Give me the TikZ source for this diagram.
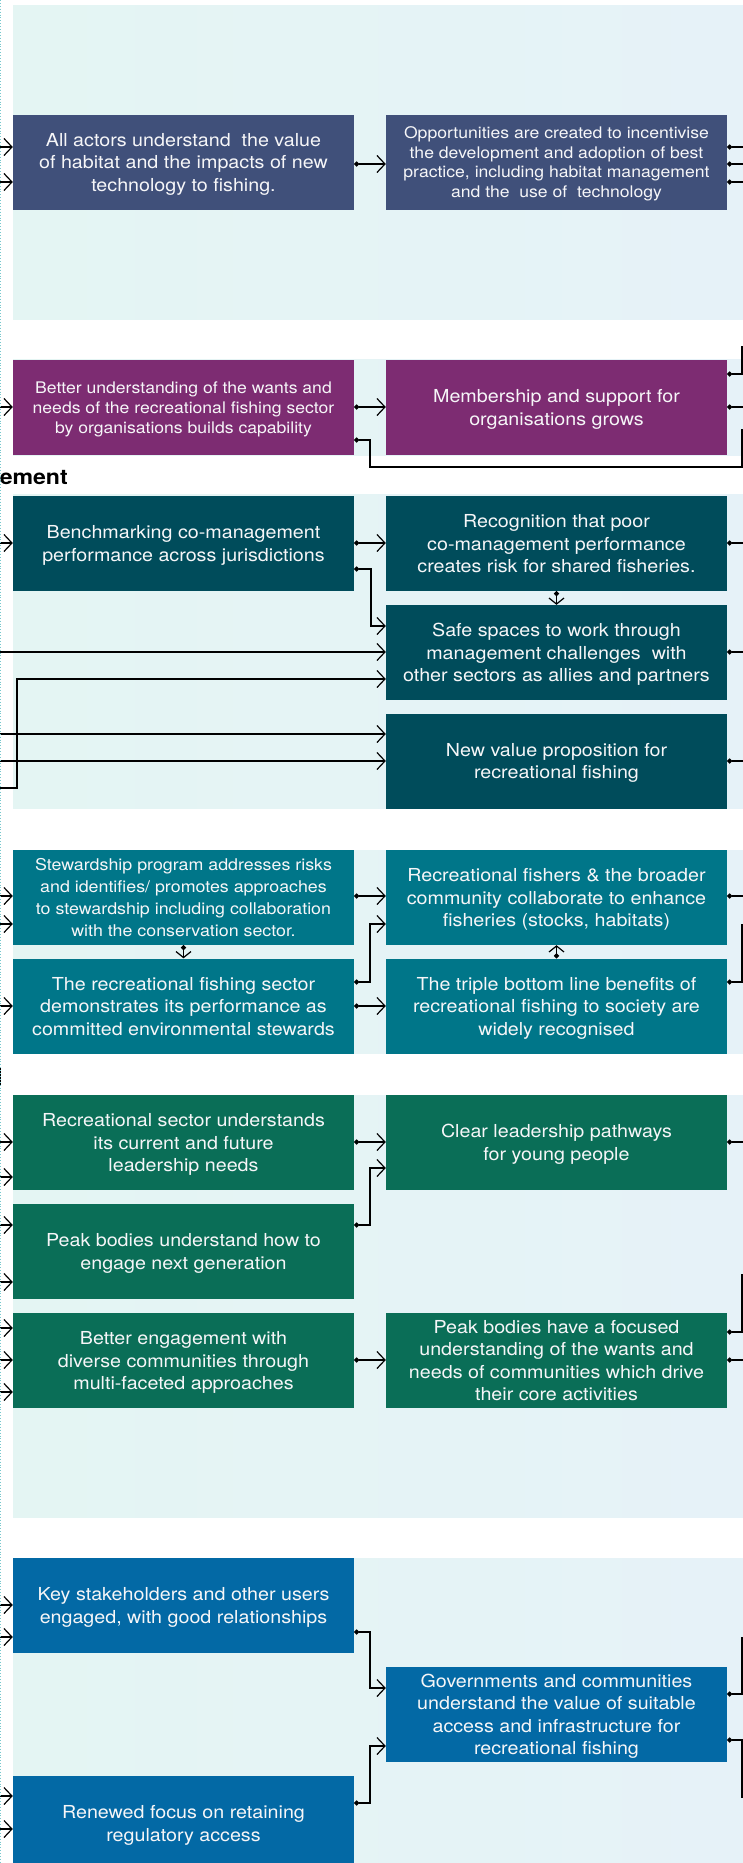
\documentclass[tikz,border=0pt]{standalone}
\usepackage{fontspec}
\setmainfont{TeX Gyre Heros}[FakeStretch=1.1]
\usetikzlibrary{arrows.meta}
\definecolor{cA}{RGB}{64,80,122}
\definecolor{cB}{RGB}{125,44,114}
\definecolor{cC}{RGB}{0,76,91}
\definecolor{cD}{RGB}{0,118,137}
\definecolor{cE}{RGB}{10,110,87}
\definecolor{cF}{RGB}{3,105,165}
\definecolor{bgL}{RGB}{228,245,243}
\definecolor{bgR}{RGB}{230,242,248}
\definecolor{dotc}{RGB}{120,200,205}
\definecolor{txt}{RGB}{246,246,248}
\begin{document}
\begin{tikzpicture}[x=1pt,y=-1pt,
  box/.style={minimum width=341pt, minimum height=95pt, inner sep=0pt, align=center, text=txt,
    font=\fontsize{17.9}{22.5}\selectfont, text depth=-7pt},
  smalltext/.style={font=\fontsize{16}{19.7}\selectfont},
  midtext/.style={font=\fontsize{16.2}{21.8}\selectfont},
  panel/.style={left color=bgL, right color=bgR, draw=none},
  link/.style={line width=1.2pt, -{Straight Barb[length=8pt,width=17pt,line width=1.2pt]}},
  dlink/.style={line width=1.2pt, {Circle[length=5pt]}-{Straight Barb[length=8pt,width=17pt,line width=1.2pt]}},
  vlink/.style={line width=1.2pt, {Circle[length=5pt]}-{Straight Barb[length=6pt,width=15pt,line width=1.2pt]}},
  dline/.style={line width=1.2pt, {Circle[length=5pt]}-},
]
\useasboundingbox (0,0) rectangle (743,1863);
\fill[white] (0,0) rectangle (743,1863);
% panels
\shade[panel] (13,5) rectangle (743,319);
\shade[panel] (13,359) rectangle (743,455);
\shade[panel] (13,494) rectangle (743,808);
\shade[panel] (13,850) rectangle (743,1053);
\shade[panel] (13,1095) rectangle (743,1517);
\shade[panel] (13,1558) rectangle (743,1863);

% heading fragment
\node[anchor=base east, inner sep=0pt, font=\fontsize{21}{24}\selectfont\bfseries] (H) at (68,484) {ement};

% boxes
\node[box, fill=cA] (A1) at (183.5,162) {All actors understand~ the value\\of habitat and the impacts of new\\technology to fishing.};
\node[box, smalltext, fill=cA] (A2) at (556.5,162) {Opportunities are created to incentivise\\the development and adoption of best\\practice, including habitat management\\and the~ use of~ technology};
\node[box, smalltext, fill=cB] (B1) at (183.5,407.5) {Better understanding of the wants and\\needs of the recreational fishing sector\\by organisations builds capability};
\node[box, fill=cB] (B2) at (556.5,407.5) {Membership and support for\\organisations grows};
\node[box, fill=cC] (C1) at (183.5,543.5) {Benchmarking co-management\\performance across jurisdictions};
\node[box, fill=cC] (C2) at (556.5,543.5) {Recognition that poor\\co-management performance\\creates risk for shared fisheries.};
\node[box, fill=cC] (C3) at (556.5,652.5) {Safe spaces to work through\\management challenges~ with\\other sectors as allies and partners};
\node[box, fill=cC] (C4) at (556.5,761) {New value proposition for\\recreational fishing};
\node[box, midtext, fill=cD] (D1) at (183.5,897.5) {Stewardship program addresses risks\\and identifies/ promotes approaches\\to stewardship including collaboration\\with the conservation sector.};
\node[box, fill=cD] (D2) at (556.5,897.5) {Recreational fishers \& the broader\\community collaborate to enhance\\fisheries (stocks, habitats)};
\node[box, fill=cD] (D3) at (183.5,1006) {The recreational fishing sector\\demonstrates its performance as\\committed environmental stewards};
\node[box, fill=cD] (D4) at (556.5,1006) {The triple bottom line benefits of\\recreational fishing to society are\\widely recognised};
\node[box, fill=cE] (E1) at (183.5,1142.5) {Recreational sector understands\\its current and future\\leadership needs};
\node[box, fill=cE] (E2) at (556.5,1142.5) {Clear leadership pathways\\for young people};
\node[box, fill=cE] (E3) at (183.5,1251.5) {Peak bodies understand how to\\engage next generation};
\node[box, fill=cE] (E4) at (183.5,1360.5) {Better engagement with\\diverse communities through\\multi-faceted approaches};
\node[box, fill=cE] (E5) at (556.5,1360.5) {Peak bodies have a focused\\understanding of the wants and\\needs of communities which drive\\their core activities};
\node[box, fill=cF] (F1) at (183.5,1605.5) {Key stakeholders and other users\\engaged, with good relationships};
\node[box, fill=cF] (F2) at (556.5,1714.5) {Governments and communities\\understand the value of suitable\\access and infrastructure for\\recreational fishing};
\node[box, fill=cF] (F3) at (183.5,1823.5) {Renewed focus on retaining\\regulatory access};

% free ends on the left
\foreach \n/\y in {a1/147,a2/182,b1/407,c1/543,c3a/652,c3b/788,c4a/734,c4b/761,d1a/896,d1b/924,d3/1006,e1a/1142,e1b/1177,e3a/1225,e3b/1282,e4a/1328,e4b/1360,e4c/1392,f1a/1605,f1b/1637,f3a/1796,f3b/1829}
  \coordinate (L\n) at (-2,\y);
% free ends on the right
\foreach \n/\y in {a1/147,a2/164,a3/182,b0/347,b1/407,b2/430,c2/543,c3/652,c4/761,d2/896,d4/925,e2/1142,e5a/1275,e5b/1360,f2a/1638,f2b/1797}
  \coordinate (R\n) at (746,\y);
\coordinate (EL) at (742,0);

% section 1
\draw[link] (La1) -- (A1.west|-La1);
\draw[link] (La2) -- (A1.west|-La2);
\draw[dlink] (A1.east|-Ra2) -- (A2.west|-Ra2);
\draw[dline] (A2.east|-Ra1) -- (Ra1);
\draw[dline] (A2.east|-Ra2) -- (Ra2);
\draw[dline] (A2.east|-Ra3) -- (Ra3);

% section 2
\draw[link] (Lb1) -- (B1.west|-Lb1);
\draw[dlink] (B1.east|-Lb1) -- (B2.west|-Lb1);
\draw[dline] (B1.east|-0,440) -- (370,440) -- (370,467) -- (742,467) -- (EL|-Rb2) -- (Rb2);
\draw[dline] (B2.east|-0,374) -- (742,374) -- (EL|-Rb0) -- (Rb0);
\draw[dline] (B2.east|-Rb1) -- (Rb1);

% section 3
\draw[link] (Lc1) -- (C1.west|-Lc1);
\draw[dlink] (C1.east|-Lc1) -- (C2.west|-Lc1);
\draw[dlink] (C1.east|-0,569) -- (371,569) -- (371,626) -- (C3.west|-0,626);
\draw[vlink] (C2.south) -- (C3.north);
\draw[link] (Lc3a) -- (C3.west|-Lc3a);
\draw[link] (Lc3b) -- (17,788) -- (17,679) -- (C3.west|-0,679);
\draw[link] (Lc4a) -- (C4.west|-Lc4a);
\draw[link] (Lc4b) -- (C4.west|-Lc4b);
\draw[dline] (C2.east|-Rc2) -- (Rc2);
\draw[dline] (C3.east|-Rc3) -- (Rc3);
\draw[dline] (C4.east|-Rc4) -- (Rc4);

% section 4
\draw[link] (Ld1a) -- (D1.west|-Ld1a);
\draw[link] (Ld1b) -- (D1.west|-Ld1b);
\draw[link] (Ld3) -- (D3.west|-Ld3);
\draw[dlink] (D1.east|-Ld1a) -- (D2.west|-Ld1a);
\draw[vlink] (D1.south) -- (D3.north);
\draw[dlink] (D3.east|-0,982) -- (370,982) -- (370,924) -- (D2.west|-0,924);
\draw[dlink] (D3.east|-Ld3) -- (D4.west|-Ld3);
\draw[vlink] (D4.north) -- (D2.south);
\draw[dline] (D2.east|-Rd2) -- (Rd2);
\draw[dline] (D4.east|-0,982) -- (742,982) -- (EL|-Rd4) -- (Rd4);

% section 5
\draw[link] (Le1a) -- (E1.west|-Le1a);
\draw[link] (Le1b) -- (E1.west|-Le1b);
\draw[link] (Le3a) -- (E3.west|-Le3a);
\draw[link] (Le3b) -- (E3.west|-Le3b);
\draw[link] (Le4a) -- (E4.west|-Le4a);
\draw[link] (Le4b) -- (E4.west|-Le4b);
\draw[link] (Le4c) -- (E4.west|-Le4c);
\draw[dlink] (E1.east|-Le1a) -- (E2.west|-Le1a);
\draw[dlink] (E3.east|-Le3a) -- (370,1225) -- (370,1168) -- (E2.west|-0,1168);
\draw[dlink] (E4.east|-Le4b) -- (E5.west|-Le4b);
\draw[dline] (E2.east|-Re2) -- (Re2);
\draw[dline] (E5.east|-0,1332) -- (742,1332) -- (EL|-Re5a) -- (Re5a);
\draw[dline] (E5.east|-Re5b) -- (Re5b);

% section 6
\draw[link] (Lf1a) -- (F1.west|-Lf1a);
\draw[link] (Lf1b) -- (F1.west|-Lf1b);
\draw[link] (Lf3a) -- (F3.west|-Lf3a);
\draw[link] (Lf3b) -- (F3.west|-Lf3b);
\draw[dlink] (F1.east|-0,1632) -- (370,1632) -- (370,1688) -- (F2.west|-0,1688);
\draw[dlink] (F3.east|-0,1803) -- (370,1803) -- (370,1746) -- (F2.west|-0,1746);
\draw[dline] (F2.east|-0,1694) -- (742,1694) -- (EL|-Rf2a) -- (Rf2a);
\draw[dline] (F2.east|-0,1740) -- (742,1740) -- (EL|-Rf2b) -- (Rf2b);

% left edge marks
\draw[line width=1pt] (0.7,1068) -- (0.7,1086);
\draw[dotc, dotted, line width=0.9pt] (0.6,0) -- (0.6,1863);
\end{tikzpicture}
\end{document}
